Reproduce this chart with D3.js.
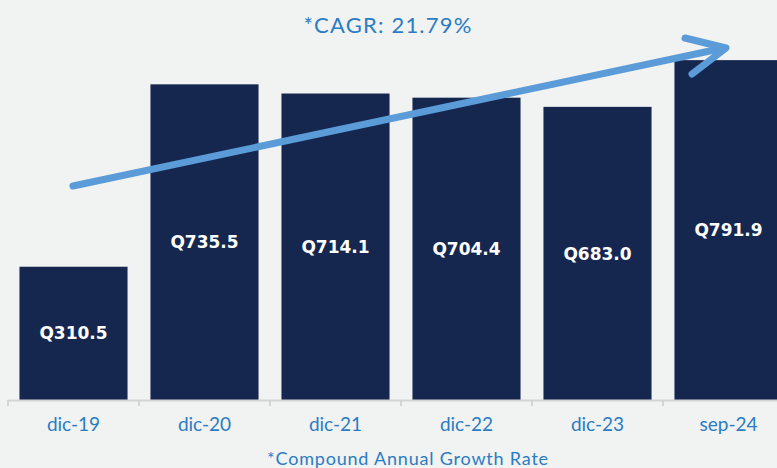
<!DOCTYPE html>
<html>
<head>
<meta charset="utf-8">
<script src="https://cdn.jsdelivr.net/npm/d3@7"></script>
<style>
  html, body { margin: 0; padding: 0; background: #f1f2f2; }
  svg { display: block; }
</style>
</head>
<body>
<script>
var categories = ["dic-19", "dic-20", "dic-21", "dic-22", "dic-23", "sep-24"];
var values = [310.5, 735.5, 714.1, 704.4, 683.0, 791.9];
var valueLabels = ["Q310.5", "Q735.5", "Q714.1", "Q704.4", "Q683.0", "Q791.9"];

var width = 777, height = 468;
var baseY = 400;

var svg = d3.select("body").append("svg")
  .attr("width", width).attr("height", height);

svg.append("rect").attr("width", width).attr("height", height).attr("fill", "#f1f2f2");

var x = d3.scaleBand()
  .domain(categories)
  .range([8, 794])
  .paddingInner(0.175)
  .paddingOuter(0.0875);

var y = d3.scaleLinear()
  .domain([0, 932])
  .range([baseY, 0]);

// bars
svg.append("g").selectAll("rect")
  .data(categories)
  .join("rect")
  .attr("x", d => x(d))
  .attr("width", x.bandwidth())
  .attr("y", (d, i) => y(values[i]))
  .attr("height", (d, i) => baseY - y(values[i]))
  .attr("fill", "#15274f");

// value labels
svg.append("g").selectAll("text")
  .data(categories)
  .join("text")
  .attr("x", d => x(d) + x.bandwidth() / 2)
  .attr("y", (d, i) => (y(values[i]) + baseY) / 2)
  .attr("dy", "0.36em")
  .attr("text-anchor", "middle")
  .attr("fill", "#ffffff")
  .style("font-family", "'DejaVu Sans', sans-serif")
  .style("font-weight", "bold")
  .style("font-size", "17px")
  .text((d, i) => valueLabels[i]);

// axis
var axis = d3.axisBottom(x).tickSize(0).tickSizeOuter(0).tickPadding(18);
var gx = svg.append("g").attr("transform", "translate(0," + baseY + ")").call(axis);
gx.select(".domain").attr("stroke", "#d3d4d4").attr("stroke-width", 2);
gx.selectAll("text")
  .attr("fill", "#2a7cc4")
  .style("font-family", "Lato, 'Open Sans', sans-serif")
  .style("font-size", "19px");

// tick separators at band edges
var edges = categories.map(d => x(d) - x.step() * x.paddingInner() / 2);
svg.append("g").selectAll("line")
  .data(edges)
  .join("line")
  .attr("x1", d => d).attr("x2", d => d)
  .attr("y1", baseY).attr("y2", baseY + 6)
  .attr("stroke", "#d3d4d4")
  .attr("stroke-width", 2);

// growth arrow
var arrow = svg.append("g")
  .attr("stroke", "#5a9bd8")
  .attr("stroke-width", 7)
  .attr("stroke-linecap", "round")
  .attr("stroke-linejoin", "round")
  .attr("fill", "none");
arrow.append("line").attr("x1", 73).attr("y1", 186).attr("x2", 724).attr("y2", 48);
arrow.append("polyline").attr("points", "685,38 726,48 692,74");

// title
svg.append("text")
  .attr("x", 388).attr("y", 33)
  .attr("text-anchor", "middle")
  .attr("fill", "#2a7cc4")
  .style("font-family", "Lato, 'Open Sans', sans-serif")
  .style("font-size", "22px")
  .style("letter-spacing", "1.2px")
  .text("*CAGR: 21.79%");

// footnote
svg.append("text")
  .attr("x", 408).attr("y", 465)
  .attr("text-anchor", "middle")
  .attr("fill", "#2a7cc4")
  .style("font-family", "Lato, 'Open Sans', sans-serif")
  .style("font-size", "18px")
  .style("letter-spacing", "0.8px")
  .text("*Compound Annual Growth Rate");
</script>
</body>
</html>
